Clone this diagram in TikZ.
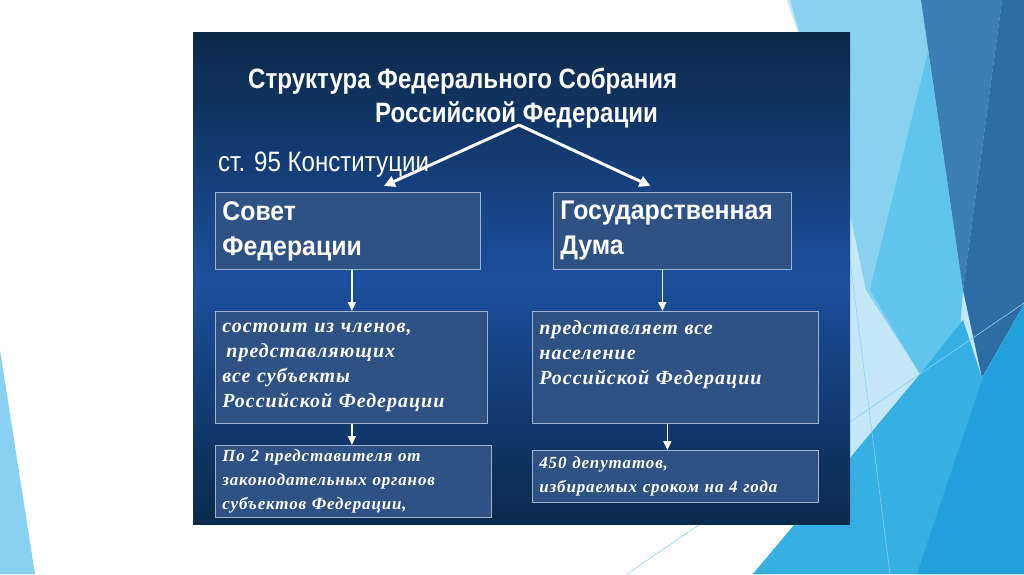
\documentclass[tikz,border=0pt]{standalone}
\usepackage{fontspec}
\setmainfont{Liberation Serif}
\newfontfamily\titlefont[FakeStretch=0.86]{Liberation Sans}
\newfontfamily\headfont[FakeStretch=0.92]{Liberation Sans}
\newfontfamily\notefont[LetterSpace=5]{Liberation Serif}
\usetikzlibrary{arrows.meta,calc}
\definecolor{paleblue}{HTML}{C4E8F8}
\definecolor{skyblue}{HTML}{88D1F0}
\definecolor{cyanmid}{HTML}{5FC5EC}
\definecolor{steellt}{HTML}{3C7FB4}
\definecolor{steeldk}{HTML}{2E6DA3}
\definecolor{cyanbr}{HTML}{36B0E3}
\definecolor{cyandk}{HTML}{21A0D9}
\definecolor{navytop}{HTML}{0B2848}
\definecolor{navymid}{HTML}{1C4F9E}
\definecolor{navybot}{HTML}{0A2A4C}
\definecolor{slatebox}{HTML}{2E5284}
\definecolor{slateline}{HTML}{9DB3CF}
\tikzset{
  headbox/.style={draw=slateline, line width=0.8pt, fill=slatebox, anchor=north west,
                  inner xsep=7pt, inner ysep=0pt, align=left, text=white,
                  font=\headfont\bfseries\fontsize{27}{35}\selectfont},
  notebox/.style={draw=slateline, line width=0.8pt, fill=slatebox, anchor=north west,
                  inner xsep=7pt, inner ysep=0pt, align=left, text=white,
                  font=\notefont\bfseries\itshape\fontsize{20}{25}\selectfont},
  smallbox/.style={notebox, font=\notefont\bfseries\itshape\fontsize{17}{24}\selectfont},
  warr/.style={-{Triangle[length=11pt,width=11pt]}, line width=3pt, color=white},
  darr/.style={-{Triangle[length=9pt,width=8pt]}, line width=1.8pt, color=white}}
\begin{document}
\begin{tikzpicture}[x=1pt,y=-1pt]
    \useasboundingbox (0,0) rectangle (1024,574);
    \fill[white] (0,0) rectangle (1024,574);
    % facets at the edges
    \fill[skyblue] (0,350) -- (35,574) -- (0,574) -- cycle;
    \fill[paleblue] (787,0) -- (1024,0) -- (1024,574) -- (753,574) -- (820,494) -- (820,100) -- cycle;
    \fill[skyblue] (790,0) -- (921,0) -- (963,290) -- (920,374) -- (866,290) -- (845,190) -- cycle;
    \fill[cyanmid] (928,52) -- (963,290) -- (960,330) -- (920,374) -- (870,290) -- cycle;
    \fill[steellt] (921,0) -- (1002,0) -- (963,290) -- cycle;
    \fill[steeldk] (1002,0) -- (1024,0) -- (1024,304) -- (982,378) -- (963,290) -- cycle;
    \fill[cyanbr] (753,574) -- (920,374) -- (963,320) -- (982,378) -- (1024,304) -- (1024,574) -- cycle;
    \fill[cyandk] (917,574) -- (982,380) -- (1024,304) -- (1024,574) -- cycle;
    \draw[skyblue, line width=0.6pt] (627,574) -- (1024,303);
    \draw[skyblue, line width=0.6pt] (850,260) -- (890,574);
    % the dark panel
    \shade[top color=navytop, bottom color=navybot, middle color=navymid]
      (193,32) rectangle (850,524);
    \node[font=\titlefont\bfseries\fontsize{28}{34}\selectfont, text=white, anchor=base west,
          inner sep=0pt] (title1) at (248,88) {Структура Федерального Собрания};
    \node[font=\titlefont\bfseries\fontsize{28}{34}\selectfont, text=white, anchor=base west,
          inner sep=0pt] (title2) at (375,122) {Российской Федерации};
    \node[font=\titlefont\fontsize{28}{30}\selectfont, text=white, anchor=base west,
          inner sep=0pt] (article) at (218,171) {ст. 95 Конституции};
    \coordinate (split) at (519,125);
    % the two chambers
    \node[headbox, minimum width=265pt, minimum height=77pt, text width=251pt] (sovet) at (215,192)
      {Совет\\Федерации};
    \node[headbox, minimum width=238pt, minimum height=77pt, text width=224pt] (duma) at (553,192)
      {Государственная\\Дума};
    \node[notebox, minimum width=272pt, minimum height=112pt, text width=258pt] (sfsost) at (215,311)
      {состоит из членов,\\\hspace*{4pt}представляющих\\все субъекты\\Российской Федерации};
    \node[smallbox, minimum width=276pt, minimum height=72pt, text width=262pt] (sfpred) at (215,445)
      {По 2 представителя от\\законодательных органов\\субъектов Федерации,};
    \node[notebox, minimum width=286pt, minimum height=112pt, text width=272pt] (gdsost) at (532,311)
      {представляет все\\население\\Российской Федерации\\[4pt]\mbox{}};
    \node[smallbox, minimum width=286pt, minimum height=52pt, text width=272pt] (gddep) at (532,450)
      {450 депутатов,\\избираемых сроком на 4 года};
    \draw[warr] (split) -- ([xshift=36pt,yshift=6pt]sovet.north);
    \draw[warr] (split) -- ([xshift=-22pt,yshift=6pt]duma.north);
    \draw[darr] ([xshift=4pt]sovet.south) -- ([xshift=4pt]sovet.south |- sfsost.north);
    \draw[darr] ([xshift=4pt]sovet.south |- sfsost.south) -- ([xshift=4pt]sovet.south |- sfpred.north);
    \draw[darr] ([xshift=-10pt]duma.south) -- ([xshift=-10pt]duma.south |- gdsost.north);
    \draw[darr] ([xshift=-5pt]duma.south |- gdsost.south) -- ([xshift=-5pt]duma.south |- gddep.north);
  \end{tikzpicture}
\end{document}
